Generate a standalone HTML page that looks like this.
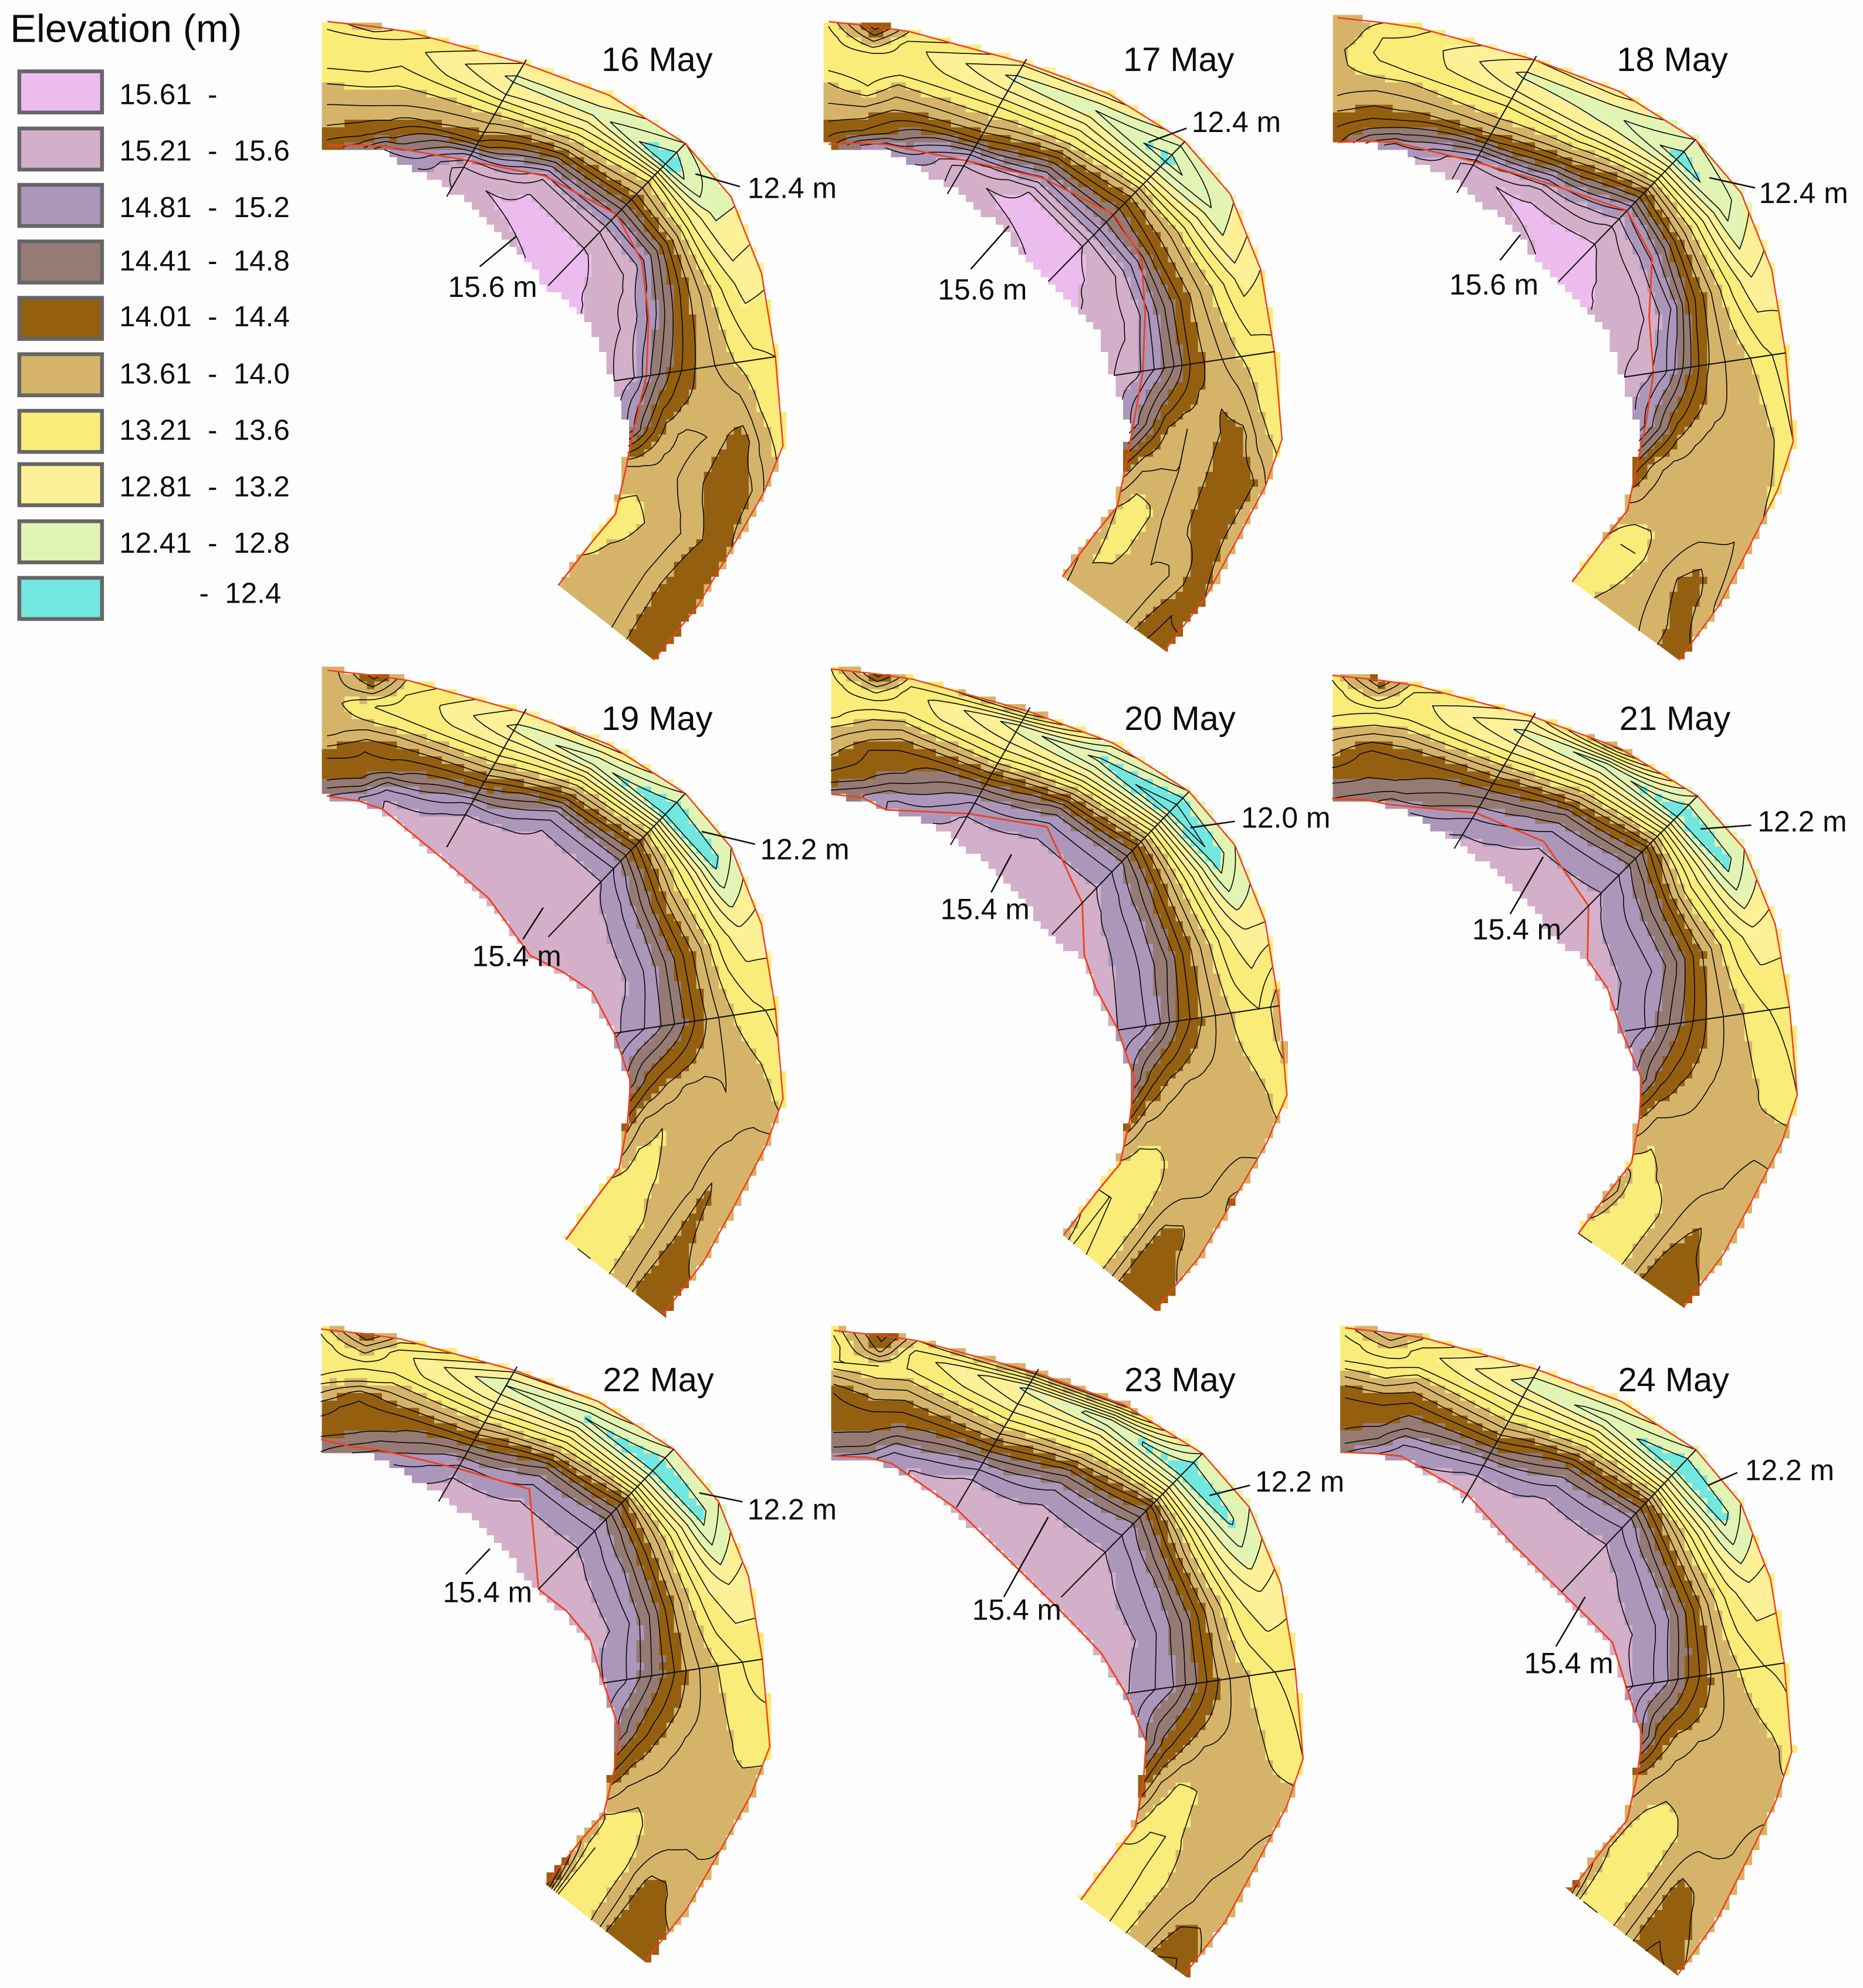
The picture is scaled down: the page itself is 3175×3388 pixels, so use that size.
<!DOCTYPE html>
<html lang="en">
<head>
<meta charset="utf-8">
<title>Channel bend elevation maps, 16–24 May</title>
<style>
  html, body { margin: 0; padding: 0; background: #fdfdfd; }
  svg { display: block; }
  text { font-family: "Liberation Sans", Arial, sans-serif; fill: #0c0c0c; white-space: pre; }
  .title { font-size: 26.7px; }
  .note { font-size: 23px; }
  .leg { font-size: 22.8px; }
</style>
</head>
<body>
<svg id="map-figure" xmlns="http://www.w3.org/2000/svg" width="3175" height="3388" viewBox="0 0 1468 1566" preserveAspectRatio="none">
  <rect x="0" y="0" width="1468" height="1566" fill="#fdfdfd"/>
  <defs id="clip-defs"></defs>
  <g id="panels"></g>

  <g>
    <text class="title" x="474" y="56">16 May</text>
    <text class="title" x="885" y="56">17 May</text>
    <text class="title" x="1274" y="56">18 May</text>
    <text class="title" x="474" y="575">19 May</text>
    <text class="title" x="886" y="575">20 May</text>
    <text class="title" x="1276" y="575">21 May</text>
    <text class="title" x="475" y="1096">22 May</text>
    <text class="title" x="886" y="1096">23 May</text>
    <text class="title" x="1275" y="1096">24 May</text>
  </g>

  <g stroke="#111" stroke-width="1.2">
    <line x1="583" y1="147" x2="548" y2="137"/>
    <line x1="378" y1="210" x2="407" y2="186"/>
    <line x1="935" y1="101" x2="905" y2="112"/>
    <line x1="765" y1="212" x2="795" y2="178"/>
    <line x1="1383" y1="148" x2="1347" y2="140"/>
    <line x1="1182" y1="205" x2="1198" y2="185"/>
    <line x1="595" y1="665" x2="553" y2="655"/>
    <line x1="412" y1="740" x2="428" y2="715"/>
    <line x1="973" y1="647" x2="938" y2="652"/>
    <line x1="781" y1="703" x2="797" y2="673"/>
    <line x1="1380" y1="650" x2="1340" y2="653"/>
    <line x1="1190" y1="720" x2="1216" y2="675"/>
    <line x1="585" y1="1183" x2="551" y2="1176"/>
    <line x1="367" y1="1240" x2="386" y2="1220"/>
    <line x1="985" y1="1170" x2="953" y2="1178"/>
    <line x1="791" y1="1258" x2="826" y2="1195"/>
    <line x1="1369" y1="1160" x2="1346" y2="1170"/>
    <line x1="1226" y1="1297" x2="1249" y2="1258"/>
  </g>
  <g>
    <text class="note" x="589" y="156">12.4 m</text>
    <text class="note" x="353" y="234">15.6 m</text>
    <text class="note" x="939" y="104">12.4 m</text>
    <text class="note" x="739" y="236">15.6 m</text>
    <text class="note" x="1386" y="160">12.4 m</text>
    <text class="note" x="1142" y="232">15.6 m</text>
    <text class="note" x="599" y="677">12.2 m</text>
    <text class="note" x="372" y="761">15.4 m</text>
    <text class="note" x="978" y="652">12.0 m</text>
    <text class="note" x="741" y="724">15.4 m</text>
    <text class="note" x="1385" y="655">12.2 m</text>
    <text class="note" x="1160" y="740">15.4 m</text>
    <text class="note" x="589" y="1197">12.2 m</text>
    <text class="note" x="349" y="1262">15.4 m</text>
    <text class="note" x="989" y="1175">12.2 m</text>
    <text class="note" x="766" y="1276">15.4 m</text>
    <text class="note" x="1375" y="1166">12.2 m</text>
    <text class="note" x="1201" y="1318">15.4 m</text>
  </g>

  <g>
    <text x="8" y="33" font-size="31">Elevation (m)</text>
    <g stroke="#666" stroke-width="3">
      <rect x="15.2" y="56.2" width="65.2" height="32.4" fill="#edbcee"/>
      <rect x="15.2" y="101.2" width="65.2" height="32.4" fill="#d3afc9"/>
      <rect x="15.2" y="145.6" width="65.2" height="32.4" fill="#ac97bb"/>
      <rect x="15.2" y="190.2" width="65.2" height="32.4" fill="#967b75"/>
      <rect x="15.2" y="234.6" width="65.2" height="32.4" fill="#946010"/>
      <rect x="15.2" y="279" width="65.2" height="32.4" fill="#d5b46a"/>
      <rect x="15.2" y="323.6" width="65.2" height="32.4" fill="#f9ec78"/>
      <rect x="15.2" y="365.6" width="65.2" height="32.4" fill="#fef097"/>
      <rect x="15.2" y="410.6" width="65.2" height="32.4" fill="#e2f4b4"/>
      <rect x="15.2" y="455.2" width="65.2" height="32.4" fill="#72e7df"/>
    </g>
    <text class="leg" x="94" y="82">15.61  -</text>
    <text class="leg" x="94" y="126.5">15.21  -  15.6</text>
    <text class="leg" x="94" y="171">14.81  -  15.2</text>
    <text class="leg" x="94" y="213">14.41  -  14.8</text>
    <text class="leg" x="94" y="257">14.01  -  14.4</text>
    <text class="leg" x="94" y="302">13.61  -  14.0</text>
    <text class="leg" x="94" y="346.5">13.21  -  13.6</text>
    <text class="leg" x="94" y="391">12.81  -  13.2</text>
    <text class="leg" x="94" y="435.5">12.41  -  12.8</text>
    <text class="leg" x="157" y="475">-  12.4</text>
  </g>
</svg>

<script>
/* Band breaks and colours (lowest band first) */
const bandBreaks = [12.4, 12.8, 13.2, 13.6, 14.0, 14.4, 14.8, 15.2, 15.6];
const bandColors = ["#72e7df", "#e2f4b4", "#fef097", "#f9ec78", "#d5b46a", "#946010", "#967b75", "#ac97bb", "#d3afc9", "#edbcee"];
const contourLevels = [12.2, 12.4, 12.6, 12.8, 13.0, 13.2, 13.4, 13.6, 13.8, 14.0, 14.2, 14.4, 14.6, 14.8, 15.0, 15.2, 15.4, 15.6];

/* Channel stations: outer and inner bank, relative to a panel's origin */
const outerBankX = [0, 37, 64, 155, 222, 282, 318, 342, 353, 359, 343, 317, 289, 254];
const outerBankY = [2, 6, 10, 35, 60, 98, 140, 200, 266, 336, 373, 417, 463, 505];
const innerBankX = [0, 25, 45, 98, 138, 174, 197, 215, 226, 239, 235, 227, 210, 182];
const innerBankY = [100, 101, 103, 133, 166, 210, 228, 250, 285, 323, 355, 390, 410, 446];

/* Cross-section lines, by station */
const sectionStations = [3, 5, 8];
const sectionStartN = [-0.03, 0, 0];
const sectionEndN = [1.07, 1, 1];

/* Panels */
const panelDates = ["16-may", "17-may", "18-may", "19-may", "20-may", "21-may", "22-may", "23-may", "24-may"];
const panelOriginX = [258, 653, 1054, 258, 655, 1050, 253, 657, 1060];
const panelOriginY = [15, 15, 12, 526, 525, 530, 1045, 1046, 1044];
const panelScaleX = [1, 0.995, 1, 1, 1, 1.02, 0.985, 1.03, 0.98];
const panelScaleY = [1, 0.985, 1, 1.01, 1.005, 0.99, 0.985, 1.01, 1];
const tailOuterX = [3, 12, 15, 10, 1, 17, 5, 14, 13];
const tailOuterY = [0, 0, 3, 0, 0, 0, 3, 0, 7];
const tailInnerX = [0, 3, 3, 6, 1, 8, -2, 7, -1];

/* Position of the inner red line across the channel at each station */
const redLine16 = [1, 0.98, 0.97, 0.78, 0.6, 0.5, 0.58, 0.7, 0.8, 0.98, 1, 1, 1, 1];
const redLine17 = [1, 0.98, 0.97, 0.8, 0.63, 0.52, 0.58, 0.72, 0.82, 0.98, 1, 1, 1, 1];
const redLine18 = [1, 0.98, 0.97, 0.82, 0.68, 0.5, 0.58, 0.76, 0.82, 0.97, 1, 1, 1, 1];
const redLine19 = [1, 1.03, 1.08, 1.15, 1.13, 1.13, 1.1, 1.05, 1, 1, 1, 1, 1, 1];
const redLine20 = [1, 1.02, 1.1, 0.82, 0.62, 0.78, 0.98, 1.05, 1, 1, 1, 1, 1, 1];
const redLine21 = [1, 1, 1.02, 0.78, 0.7, 0.78, 1, 1.02, 1.02, 1, 1, 1, 1, 1];
const redLine22 = [0.9, 0.95, 0.95, 0.8, 0.66, 1, 1, 1, 1, 1, 1, 1, 1, 1];
const redLine23 = [1, 1, 1.03, 1.08, 1.1, 1.05, 1.08, 1.08, 1.02, 1, 1, 1, 1, 1];
const redLine24 = [1, 1, 1, 1, 1.05, 1, 1.02, 1, 1, 1, 1, 1, 1, 1];

/* Elevation (m): one row per station, outer bank to inner bank */
const elevation16 = [
 [13.5,13.3,13.3,13.4,13.6,13.75,13.9,14.05,14.3],
 [13.75,13.3,13.25,13.4,13.6,13.75,13.95,14.1,14.5],
 [13.5,13.3,13.35,13.5,13.65,13.8,14.0,14.3,15.0],
 [13.0,12.75,13.0,13.5,13.85,14.2,15.1,15.55,15.4],
 [13.0,12.7,13.2,13.8,14.6,15.4,15.62,15.66,15.55],
 [12.6,12.2,13.5,14.1,14.8,15.4,15.62,15.7,15.65],
 [12.75,12.75,13.2,13.95,14.7,15.25,15.5,15.55,15.62],
 [13.15,13.1,13.4,13.8,14.2,14.7,15.15,15.4,15.5],
 [13.4,13.45,13.6,13.8,14.0,14.3,14.7,15.2,15.4],
 [13.5,13.7,14.1,14.0,13.8,13.75,13.85,14.3,14.9],
 [13.8,14.1,14.2,14.1,13.9,13.8,13.75,13.7,13.7],
 [14.0,14.1,14.0,13.85,13.75,13.7,13.6,13.5,13.55],
 [14.0,14.15,14.2,13.95,13.8,13.7,13.65,13.62,13.5],
 [14.2,14.2,14.05,13.85,13.75,13.7,13.7,13.75,13.8]
];
const elevation17 = [
 [13.45,13.3,13.3,13.35,13.6,13.75,13.9,14.1,14.3],
 [14.3,13.8,13.3,13.25,13.4,13.7,13.95,14.2,14.8],
 [13.6,13.3,13.3,13.4,13.7,13.9,14.15,14.4,15.0],
 [13.05,12.75,13.05,13.45,13.75,14.2,15.0,15.55,15.45],
 [13.1,12.6,13.1,13.6,14.3,15.0,15.62,15.66,15.55],
 [12.7,12.3,13.0,13.9,14.5,15.0,15.6,15.68,15.65],
 [12.75,12.6,13.15,13.75,14.2,14.9,15.4,15.55,15.62],
 [13.2,13.1,13.45,13.8,14.2,14.7,15.2,15.45,15.5],
 [13.45,13.5,13.65,13.9,14.1,14.6,15.0,15.3,15.4],
 [13.5,13.65,14.05,14.05,13.85,13.8,14.0,14.5,15.0],
 [13.8,14.1,14.2,14.1,13.85,13.8,13.8,13.85,14.2],
 [13.8,14.05,14.1,14.05,13.85,13.8,13.55,13.45,13.6],
 [14.0,14.15,13.9,13.75,13.8,13.75,13.55,13.55,13.7],
 [14.3,14.25,14.1,13.8,13.75,13.7,13.7,13.65,13.9]
];
const elevation18 = [
 [13.75,13.8,13.65,13.65,13.7,13.8,14.0,14.2,14.35],
 [13.6,13.4,13.35,13.45,13.7,13.9,14.1,14.4,14.85],
 [13.45,13.35,13.3,13.4,13.7,13.85,14.1,14.5,15.1],
 [13.0,12.75,13.0,13.4,13.65,14.1,14.9,15.55,15.45],
 [13.1,12.7,12.85,13.4,14.0,14.8,15.5,15.66,15.55],
 [12.6,12.3,13.2,14.2,15.0,15.45,15.62,15.7,15.65],
 [12.7,12.5,13.2,13.85,14.6,15.15,15.45,15.55,15.62],
 [13.1,13.0,13.35,13.8,14.3,15.0,15.35,15.5,15.5],
 [13.3,13.45,13.65,13.8,14.05,14.55,15.05,15.3,15.4],
 [13.4,13.6,13.8,13.75,13.75,13.85,14.1,14.6,15.1],
 [13.5,13.75,13.8,13.75,13.7,13.7,13.7,13.9,14.3],
 [13.7,13.8,13.75,13.75,13.7,13.7,13.7,13.7,13.7],
 [13.75,13.95,14.15,14.0,13.8,13.7,13.4,13.4,13.6],
 [14.1,14.15,13.9,13.8,13.7,13.75,13.65,13.5,13.4]
];
const elevation19 = [
 [13.65,13.7,13.7,13.7,13.75,14.05,14.3,14.4,14.8],
 [14.3,13.9,13.4,13.6,13.95,14.2,14.25,14.45,15.0],
 [13.55,13.4,13.3,13.5,13.9,14.15,14.3,14.9,15.2],
 [12.95,12.75,13.1,13.5,14.0,14.5,15.1,15.3,15.35],
 [13.1,12.45,13.3,14.05,14.85,15.2,15.3,15.35,15.35],
 [12.6,12.2,13.4,14.3,14.95,15.22,15.33,15.4,15.35],
 [12.6,12.3,13.15,13.7,14.3,14.85,15.15,15.3,15.35],
 [13.1,13.05,13.3,13.8,14.25,14.7,15.05,15.25,15.3],
 [13.35,13.45,13.58,13.85,14.2,14.6,14.9,15.1,15.25],
 [13.5,13.7,13.75,13.8,13.7,13.75,13.95,14.25,14.7],
 [13.9,13.85,13.8,13.75,13.75,13.7,13.6,13.7,14.1],
 [13.95,13.85,14.05,13.8,13.75,13.7,13.5,13.5,13.7],
 [13.95,14.0,14.1,13.85,13.7,13.55,13.5,13.45,13.45],
 [14.1,14.1,14.2,13.8,13.7,13.45,13.4,13.4,13.5]
];
const elevation20 = [
 [13.4,13.3,13.3,13.35,13.7,13.9,14.1,14.3,14.7],
 [14.3,13.7,13.3,13.6,13.9,14.2,14.25,14.4,14.8],
 [13.5,13.3,13.3,13.65,14.0,14.25,14.3,14.6,15.0],
 [13.8,12.7,13.0,13.4,14.0,14.6,15.05,15.25,15.3],
 [12.9,12.35,13.0,13.8,14.7,15.1,15.25,15.3,15.35],
 [12.6,12.05,13.2,14.2,14.85,15.15,15.28,15.32,15.35],
 [12.6,12.25,13.05,13.7,14.3,14.8,15.1,15.25,15.32],
 [13.0,13.0,13.25,13.7,14.15,14.65,14.95,15.15,15.25],
 [13.75,13.4,13.5,13.75,14.05,14.4,14.85,15.1,15.2],
 [13.5,13.6,13.7,13.7,13.7,13.75,13.9,14.25,14.75],
 [13.7,13.75,13.75,13.75,13.75,13.65,13.7,13.8,14.2],
 [14.05,13.9,13.75,13.7,13.7,13.6,13.5,13.45,13.55],
 [13.85,13.95,14.1,14.05,13.75,13.5,13.45,13.4,13.4],
 [14.15,14.2,14.2,14.05,13.7,13.5,13.4,13.35,13.8]
];
const elevation21 = [
 [13.45,13.3,13.3,13.45,13.75,13.95,14.2,14.4,14.6],
 [14.2,13.75,13.35,13.6,13.95,14.3,14.35,14.45,14.7],
 [13.5,13.3,13.3,13.6,13.95,14.2,14.3,14.5,14.9],
 [13.1,12.75,13.05,13.5,14.05,14.5,14.85,15.1,15.25],
 [13.9,12.5,13.15,13.85,14.6,15.0,15.2,15.3,15.3],
 [12.6,12.2,13.3,14.3,14.85,15.15,15.25,15.32,15.3],
 [12.6,12.3,13.0,13.55,14.25,14.75,15.05,15.2,15.3],
 [13.1,13.05,13.3,13.75,14.2,14.7,15.0,15.15,15.25],
 [13.35,13.4,13.55,13.75,13.98,14.3,14.65,15.0,15.15],
 [13.4,13.5,13.6,13.7,13.75,13.85,14.0,14.25,14.7],
 [13.7,13.7,13.65,13.7,13.7,13.75,13.75,13.75,14.0],
 [13.9,13.95,13.8,13.75,13.7,13.7,13.65,13.5,13.5],
 [13.85,13.9,14.05,13.95,13.7,13.55,13.45,13.45,14.0],
 [14.1,14.2,14.2,14.05,13.7,13.55,13.45,13.4,13.4]
];
const elevation22 = [
 [13.45,13.3,13.3,13.4,13.75,14.1,14.25,14.4,14.6],
 [14.2,13.7,13.35,13.5,14.1,14.3,14.3,14.45,14.8],
 [13.7,13.3,13.3,13.6,13.9,14.2,14.3,14.6,14.9],
 [13.05,12.6,12.95,13.4,13.9,14.45,14.95,15.2,15.3],
 [13.0,12.4,13.1,13.75,14.6,15.0,15.2,15.3,15.3],
 [12.6,12.2,13.05,14.15,14.8,15.1,15.25,15.32,15.3],
 [12.6,12.3,13.05,13.7,14.3,14.8,15.1,15.25,15.3],
 [13.1,13.0,13.2,13.6,14.1,14.6,15.0,15.2,15.25],
 [13.3,13.4,13.55,13.75,14.05,14.4,14.75,15.05,15.2],
 [13.5,13.45,13.6,13.7,13.75,13.85,14.05,14.35,14.75],
 [13.75,13.75,13.75,13.75,13.75,13.75,13.8,13.9,14.2],
 [13.8,13.75,13.75,13.7,13.7,13.65,13.5,13.55,13.6],
 [13.85,13.95,14.05,14.05,13.8,13.5,13.45,13.4,13.8],
 [14.2,14.2,14.15,14.05,13.65,13.5,13.45,13.4,14.5]
];
const elevation23 = [
 [13.45,13.3,13.4,13.85,14.2,14.3,14.35,14.45,14.8],
 [14.3,14.05,13.4,13.65,13.95,14.2,14.35,14.5,14.9],
 [13.6,13.3,13.4,13.7,14.0,14.25,14.45,14.85,15.15],
 [13.9,12.75,13.0,13.4,13.85,14.4,14.95,15.25,15.35],
 [13.9,12.45,13.15,13.7,14.5,15.0,15.22,15.3,15.35],
 [12.6,12.2,13.1,14.3,14.85,15.12,15.28,15.35,15.35],
 [12.6,12.35,12.9,13.6,14.3,14.85,15.1,15.25,15.3],
 [13.1,13.0,13.2,13.65,14.2,14.7,15.0,15.2,15.3],
 [13.35,13.4,13.55,13.75,14.1,14.5,14.85,15.05,15.2],
 [13.4,13.5,13.62,13.7,13.72,13.78,14.0,14.3,14.8],
 [13.75,13.75,13.75,13.75,13.7,13.6,13.55,13.75,14.2],
 [13.85,13.8,13.75,13.7,13.65,13.6,13.4,13.4,13.55],
 [13.85,13.9,13.85,13.7,13.65,13.5,13.4,13.35,13.3],
 [14.1,14.25,14.2,13.8,13.65,13.55,13.35,13.3,13.3]
];
const elevation24 = [
 [13.5,13.3,13.35,13.75,14.1,14.3,14.35,14.45,14.8],
 [14.0,13.6,13.3,13.6,14.0,14.25,14.35,14.6,15.0],
 [13.6,13.3,13.4,13.8,14.1,14.35,14.55,14.95,15.15],
 [12.9,12.7,13.1,13.45,13.9,14.4,14.95,15.25,15.35],
 [13.0,12.5,13.15,13.8,14.6,15.0,15.25,15.3,15.35],
 [12.6,12.2,13.1,14.2,14.9,15.15,15.3,15.35,15.35],
 [12.6,12.3,13.0,13.7,14.35,14.9,15.15,15.25,15.35],
 [13.1,13.05,13.25,13.7,14.25,14.75,15.05,15.2,15.25],
 [13.35,13.4,13.55,13.75,14.1,14.45,14.85,15.1,15.25],
 [13.5,13.65,13.7,13.72,13.75,13.8,13.9,14.2,14.8],
 [13.7,13.72,13.75,13.75,13.75,13.7,13.7,13.8,13.95],
 [13.95,13.8,13.75,13.75,13.7,13.55,13.45,13.5,13.65],
 [13.8,13.9,14.05,14.1,13.75,13.55,13.45,13.45,13.65],
 [14.05,14.2,14.25,14.1,13.75,13.55,13.4,13.4,14.1]
];

const elevationGrids = [elevation16, elevation17, elevation18, elevation19, elevation20, elevation21, elevation22, elevation23, elevation24];
const redLines = [redLine16, redLine17, redLine18, redLine19, redLine20, redLine21, redLine22, redLine23, redLine24];

const SVG_NS = "http://www.w3.org/2000/svg";
const CELL = 5.9;
const LAST_STATION = outerBankX.length - 1;
const panelsRoot = document.getElementById("panels");
const clipDefs = document.getElementById("clip-defs");

function lerp(a, b, t) { return a + (b - a) * t; }

function lookup(arr, s) {
  const i = Math.min(Math.floor(s), arr.length - 2);
  return lerp(arr[i], arr[i + 1], s - i);
}

function tailRamp(s) { return Math.max(0, (s - 9) / 4); }

function channelX(p, s, n) {
  const ramp = tailRamp(s);
  const o = lookup(outerBankX, s) + tailOuterX[p] * ramp;
  const i = lookup(innerBankX, s) + tailInnerX[p] * ramp;
  return panelOriginX[p] + panelScaleX[p] * lerp(o, i, n);
}

function channelY(p, s, n) {
  const o = lookup(outerBankY, s) + tailOuterY[p] * tailRamp(s);
  const i = lookup(innerBankY, s);
  return panelOriginY[p] + panelScaleY[p] * lerp(o, i, n);
}

function elevationAt(grid, s, n) {
  const i = Math.min(Math.floor(s), grid.length - 2);
  const ts = Math.min(1, s - i);
  const pos = Math.max(0, Math.min(1, n)) * 8;
  const j = Math.min(Math.floor(pos), 7);
  const tn = pos - j;
  const a = lerp(grid[i][j], grid[i][j + 1], tn);
  const b = lerp(grid[i + 1][j], grid[i + 1][j + 1], tn);
  return lerp(a, b, ts);
}

function bandIndex(v) {
  let k = 0;
  while (k < bandBreaks.length && v > bandBreaks[k]) k++;
  return k;
}

function rasterLimit(red, s) { return Math.max(1, lookup(red, Math.min(s, LAST_STATION))); }

/* Half-plane clip that makes the downstream end of the raster a straight cut */
function addEndClip(p) {
  const ax = channelX(p, LAST_STATION, 1), ay = channelY(p, LAST_STATION, 1);
  const bx = channelX(p, LAST_STATION, 0), by = channelY(p, LAST_STATION, 0);
  const dx = bx - ax, dy = by - ay;
  const len = Math.hypot(dx, dy);
  const ux = dx / len, uy = dy / len;
  let nx = uy, ny = -ux;
  const upX = channelX(p, LAST_STATION - 2, 0.5) - ax;
  const upY = channelY(p, LAST_STATION - 2, 0.5) - ay;
  if (nx * upX + ny * upY < 0) { nx = -nx; ny = -ny; }
  const far = 1500;
  const pts = [
    [ax - ux * far, ay - uy * far],
    [bx + ux * far, by + uy * far],
    [bx + ux * far + nx * far, by + uy * far + ny * far],
    [ax - ux * far + nx * far, ay - uy * far + ny * far]
  ];
  const clip = document.createElementNS(SVG_NS, "clipPath");
  
  
  clip.setAttribute("id", "end-clip-" + p);
  const poly = document.createElementNS(SVG_NS, "polygon");
  
  
  poly.setAttribute("points", pts.map(function (q) { return q[0].toFixed(1) + "," + q[1].toFixed(1); }).join(" "));
  clip.appendChild(poly);
  clipDefs.appendChild(clip);
}

function drawRaster(p, group) {
  const grid = elevationGrids[p];
  const red = redLines[p];
  const cells = new Map();
  for (let s = 0; s <= LAST_STATION + 0.3; s += 0.02) {
    const limit = rasterLimit(red, s);
    for (let u = 0; u <= 1.0001; u += 0.0125) {
      const n = u * limit;
      const x = channelX(p, s, n);
      const y = channelY(p, s, n);
      const cx = Math.floor(x / CELL);
      const cy = Math.floor(y / CELL);
      const dx = x - (cx + 0.5) * CELL;
      const dy = y - (cy + 0.5) * CELL;
      const dist = dx * dx + dy * dy;
      const key = cy * 100000 + cx;
      const prev = cells.get(key);
      if (!prev || dist < prev.dist) {
        cells.set(key, { cx: cx, cy: cy, dist: dist, band: bandIndex(elevationAt(grid, s, n)) });
      }
    }
  }
  const rows = new Map();
  cells.forEach(function (c) {
    if (c.dist > 2.6) return;
    if (!rows.has(c.cy)) rows.set(c.cy, []);
    rows.get(c.cy).push(c);
  });
  const rasterGroup = document.createElementNS(SVG_NS, "g");
  
  
  rasterGroup.setAttribute("clip-path", "url(#end-clip-" + p + ")");
  group.appendChild(rasterGroup);
  rows.forEach(function (row, cy) {
    row.sort(function (a, b) { return a.cx - b.cx; });
    let i = 0;
    while (i < row.length) {
      let j = i;
      while (j + 1 < row.length && row[j + 1].cx === row[j].cx + 1 && row[j + 1].band === row[i].band) j++;
      const el = document.createElementNS(SVG_NS, "rect");
      
      
      el.setAttribute("x", (row[i].cx * CELL).toFixed(2));
      el.setAttribute("y", (cy * CELL).toFixed(2));
      el.setAttribute("width", ((j - i + 1) * CELL).toFixed(2));
      el.setAttribute("height", CELL.toFixed(2));
      el.setAttribute("fill", bandColors[row[i].band]);
      el.setAttribute("shape-rendering", "crispEdges");
      rasterGroup.appendChild(el);
      i = j + 1;
    }
  });
}

function drawContours(p, group) {
  const grid = elevationGrids[p];
  const red = redLines[p];
  const subS = 8;
  const subN = 8;
  const ns = LAST_STATION * subS + 1;
  const nn = 8 * subN + 1;
  const vals = [];
  for (let i = 0; i < ns; i++) {
    const s = i / subS;
    const limit = rasterLimit(red, s);
    const col = [];
    for (let j = 0; j < nn; j++) col.push(elevationAt(grid, s, (j / (nn - 1)) * limit));
    vals.push(col);
  }
  function mapPoint(si, uj) {
    const s = si / subS;
    const n = (uj / (nn - 1)) * rasterLimit(red, s);
    return channelX(p, s, n).toFixed(1) + " " + channelY(p, s, n).toFixed(1);
  }
  contourLevels.forEach(function (level) {
    let d = "";
    const L = level + 0.0001;
    for (let i = 0; i < ns - 1; i++) {
      for (let j = 0; j < nn - 1; j++) {
        const a = vals[i][j], b = vals[i + 1][j], c = vals[i + 1][j + 1], e = vals[i][j + 1];
        const pts = [];
        if ((a > L) !== (b > L)) pts.push(mapPoint(i + (L - a) / (b - a), j));
        if ((b > L) !== (c > L)) pts.push(mapPoint(i + 1, j + (L - b) / (c - b)));
        if ((c > L) !== (e > L)) pts.push(mapPoint(i + (L - e) / (c - e), j + 1));
        if ((e > L) !== (a > L)) pts.push(mapPoint(i, j + (L - a) / (e - a)));
        if (pts.length >= 2) d += "M" + pts[0] + "L" + pts[1];
        if (pts.length === 4) d += "M" + pts[2] + "L" + pts[3];
      }
    }
    if (d) {
      const el = document.createElementNS(SVG_NS, "path");
      
      
      el.setAttribute("d", d);
      el.setAttribute("fill", "none");
      el.setAttribute("stroke", "#0a0a0a");
      el.setAttribute("stroke-width", "0.75");
      el.setAttribute("stroke-linecap", "round");
      group.appendChild(el);
    }
  });
}

function drawBanks(p, group) {
  let outer = "";
  let inner = "";
  for (let s = 0; s <= LAST_STATION; s++) {
    outer += (s ? "L" : "M") + channelX(p, s, 0).toFixed(1) + " " + channelY(p, s, 0).toFixed(1);
    inner += (s ? "L" : "M") + channelX(p, s, redLines[p][s]).toFixed(1) + " " + channelY(p, s, redLines[p][s]).toFixed(1);
  }
  const outerEl = document.createElementNS(SVG_NS, "path");
  
  
  outerEl.setAttribute("d", outer);
  outerEl.setAttribute("fill", "none");
  outerEl.setAttribute("stroke", "#f2401c");
  outerEl.setAttribute("stroke-width", "1.15");
  group.appendChild(outerEl);
  const innerEl = document.createElementNS(SVG_NS, "path");
  
  
  innerEl.setAttribute("d", inner);
  innerEl.setAttribute("fill", "none");
  innerEl.setAttribute("stroke", "#f2401c");
  innerEl.setAttribute("stroke-width", "1.3");
  group.appendChild(innerEl);
}

function drawSections(p, group) {
  sectionStations.forEach(function (s, k) {
    const el = document.createElementNS(SVG_NS, "line");
    
    
    el.setAttribute("x1", channelX(p, s, sectionStartN[k]).toFixed(1));
    el.setAttribute("y1", channelY(p, s, sectionStartN[k]).toFixed(1));
    el.setAttribute("x2", channelX(p, s, sectionEndN[k]).toFixed(1));
    el.setAttribute("y2", channelY(p, s, sectionEndN[k]).toFixed(1));
    el.setAttribute("stroke", "#111");
    el.setAttribute("stroke-width", "0.95");
    group.appendChild(el);
  });
}

panelDates.forEach(function (date, p) {
  const group = document.createElementNS(SVG_NS, "g");
  
  
  panelsRoot.appendChild(group);
  addEndClip(p);
  drawRaster(p, group);
  drawContours(p, group);
  drawBanks(p, group);
  drawSections(p, group);
});
</script>
</body>
</html>
